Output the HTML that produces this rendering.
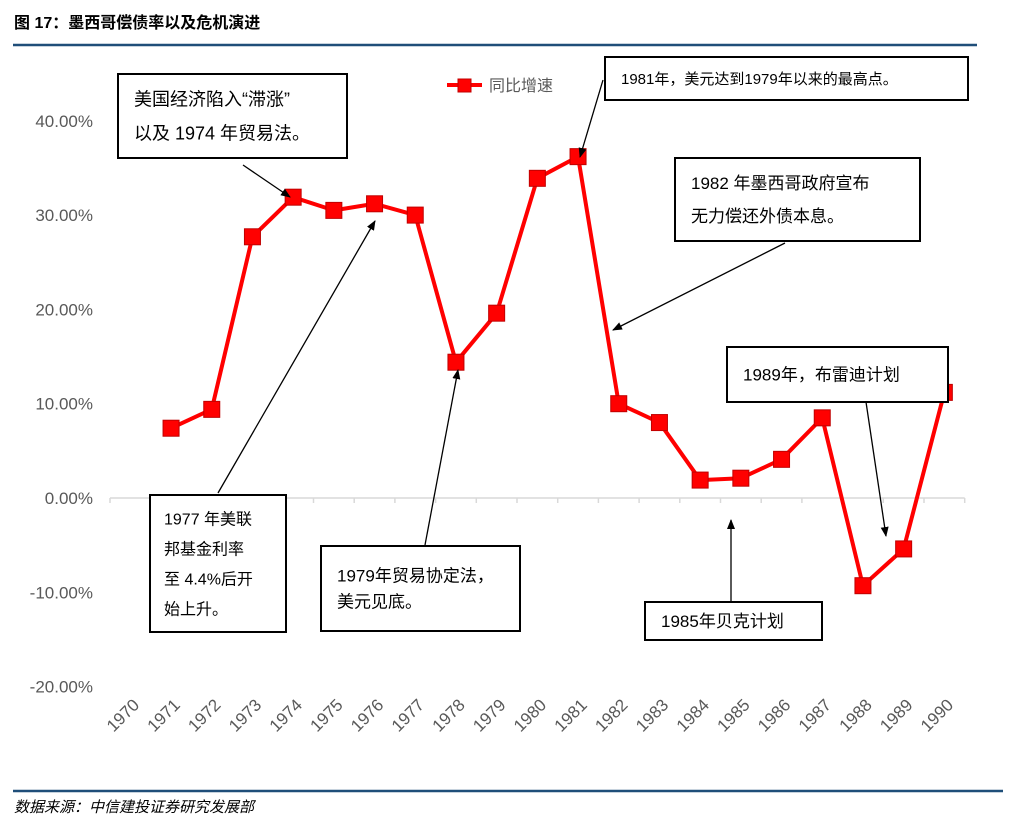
<!DOCTYPE html>
<html><head><meta charset="utf-8"><style>
body{margin:0;width:1027px;height:827px;background:#fff;overflow:hidden;font-family:"Liberation Sans","Noto Sans CJK SC",sans-serif;}
svg text{font-family:"Liberation Sans","Noto Sans CJK SC",sans-serif;}
</style></head><body>
<svg width="1027" height="827">
<text x="14" y="28" font-size="16" font-weight="bold" fill="#000">图 17：墨西哥偿债率以及危机演进</text>
<line x1="13" y1="45" x2="977" y2="45" stroke="#1f4e79" stroke-width="2.5"/>
<line x1="13" y1="791" x2="1003" y2="791" stroke="#1f4e79" stroke-width="2.5"/>
<text x="14" y="812" font-size="15" font-style="italic" fill="#000">数据来源：中信建投证券研究发展部</text>
<g id="axes"></g>
<g id="series"></g>
<g>
<line x1="447" y1="85" x2="482" y2="85" stroke="#ff0000" stroke-width="4"/>
<rect x="458" y="79" width="13" height="13" fill="#ff0000" stroke="#c00000"/>
<text x="489" y="91" font-size="16" fill="#595959">同比增速</text>
</g>
<g id="notes" fill="none" stroke="#000" stroke-width="1.5"></g>
<defs><marker id="ah" markerWidth="10" markerHeight="8" refX="9" refY="4" orient="auto" markerUnits="userSpaceOnUse"><path d="M0,0 L10,4 L0,8 z" fill="#000"/></marker></defs>
</svg>
<script>
const years=["1970","1971","1972","1973","1974","1975","1976","1977","1978","1979","1980","1981","1982","1983","1984","1985","1986","1987","1988","1989","1990"];
const growth=[null,7.4,9.4,27.7,31.9,30.5,31.2,30.0,14.4,19.6,33.9,36.2,10.0,8.0,1.9,2.1,4.1,8.5,-9.3,-5.4,11.2];
const yTicks=[40,30,20,10,0,-10,-20];
const NS="http://www.w3.org/2000/svg";
const x0=110,step=40.7;
function xs(i){return x0+step*(i+0.5);}
function ys(v){return 498-v*9.43;}
function mk(tag,attrs,parent,txt){const e=document.createElementNS(NS,tag);for(const k in attrs)e.setAttribute(k,attrs[k]);if(txt!==undefined)e.textContent=txt;parent.appendChild(e);return e;}
const ax=document.getElementById('axes');
yTicks.forEach(t=>{const e=mk('text',{x:93,y:ys(t)+6,'text-anchor':'end','font-size':17,fill:'#595959'},ax,t.toFixed(2)+'%');

});
const axl=mk('line',{x1:x0,y1:ys(0),x2:x0+step*years.length,y2:ys(0),stroke:'#d9d9d9','stroke-width':1.5},ax);


for(let i=0;i<=years.length;i++){mk('line',{x1:x0+step*i,y1:ys(0),x2:x0+step*i,y2:ys(0)+5,stroke:'#d9d9d9','stroke-width':1.5},ax);}
years.forEach((y,i)=>{const cx=xs(i)+10,cy=706;const e=mk('text',{x:cx,y:cy,'text-anchor':'end','font-size':17,fill:'#595959',transform:`rotate(-45 ${cx} ${cy})`},ax,y);

});
const sg=document.getElementById('series');
let d='';growth.forEach((v,i)=>{if(v===null)return;d+=(d?'L':'M')+xs(i)+','+ys(v);});
const pl=mk('path',{d:d,fill:'none',stroke:'#ff0000','stroke-width':4,'stroke-linejoin':'round'},sg);


growth.forEach((v,i)=>{if(v===null)return;const r=mk('rect',{x:xs(i)-8,y:ys(v)-8,width:16,height:16,fill:'#ff0000',stroke:'#c00000'},sg);

});
const ng=document.getElementById('notes');
const boxes=[
[118,74,229,84,18,["美国经济陷入“滞涨”","以及 1974 年贸易法。"],34,'note-stagflation'],
[605,57,363,43,15,["1981年，美元达到1979年以来的最高点。"],28,'note-1981'],
[675,158,245,83,17,["1982  年墨西哥政府宣布","无力偿还外债本息。"],33,'note-1982'],
[727,347,221,55,17,["1989年，布雷迪计划"],26,'note-1989'],
[150,495,136,137,16,["1977  年美联","邦基金利率","至  4.4%后开","始上升。"],30,'note-1977'],
[321,546,199,85,17,["1979年贸易协定法，","美元见底。"],26,'note-1979'],
[645,602,177,38,17,["1985年贝克计划"],26,'note-1985']];
boxes.forEach(b=>{const g=mk('g',{},ng);


mk('rect',{x:b[0],y:b[1],width:b[2],height:b[3],fill:'#fff',stroke:'#000','stroke-width':2},g);
const lh=b[6];const n=b[5].length;const top=b[1]+b[3]/2-(n*lh)/2+lh/2+b[4]*0.36;
b[5].forEach((t,j)=>mk('text',{x:b[0]+(b[7]==='note-1977'?14:16),y:top+j*lh,'font-size':b[4],fill:'#000',stroke:'none'},g,t));});
const arrows=[[243,165,290,197],[218,493,375,221],[425,545,458,370],[603,80,580,157],[785,243,613,330],[866,402,886,536],[731,602,731,520]];
arrows.forEach(a=>{const l=mk('line',{x1:a[0],y1:a[1],x2:a[2],y2:a[3],stroke:'#000','stroke-width':1.3,'marker-end':'url(#ah)'},ng);

});
</script>
</body></html>
